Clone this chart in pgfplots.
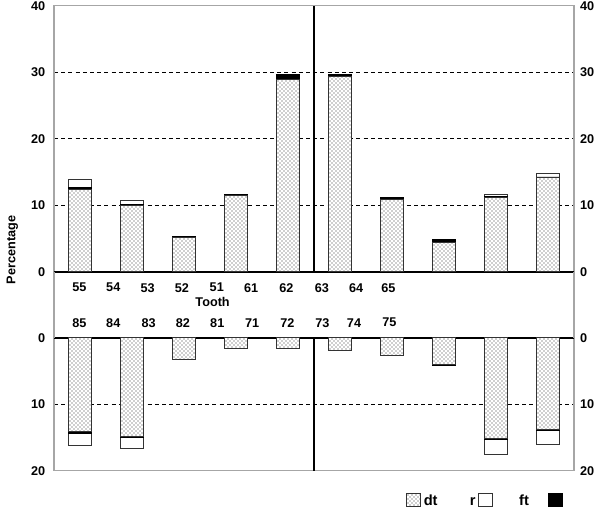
\documentclass[border=0pt]{standalone}
\usepackage{fontspec}
\setmainfont{Liberation Sans}
\usepackage{pgfplots}
\usepackage{pgfplotstable}
\pgfplotsset{compat=1.18}
\usetikzlibrary{patterns}

% x = bar position, dt / ft / r = percentage stacked in this order
\pgfplotstableread{
x   dt    ft    r
0.5 12.4  0.2   1.3
1.5 9.9   0.2   0.6
2.5 5.2   0.15  0
3.5 11.5  0.1   0
4.5 28.9  0.8   0
5.5 29.3  0.35  0
6.5 10.85 0.35  0
7.5 4.45  0.35  0
8.5 11.1  0.15  0.4
9.5 14.1  0.15  0.5
}\upperjaw
\pgfplotstableread{
x   dt    ft    r
0.5 14.1  0.3   1.8
1.5 14.8  0.2   1.7
2.5 3.3   0     0
3.5 1.6   0     0
4.5 1.6   0     0
5.5 1.9   0     0
6.5 2.6   0     0
7.5 4.0   0.2   0
8.5 15.1  0.25  2.2
9.5 13.8  0.15  2.1
}\lowerjaw

\newcommand{\lbl}{\bfseries\fontsize{9.5}{11}\selectfont}

\pgfplotsset{
  panel/.style={
    scale only axis, width=390pt,
    xmin=0, xmax=10,
    ybar stacked, bar width=0.434,
    major tick length=0pt,
    /pgf/number format/assume math mode=true,
    tick label style={font=\lbl},
    yticklabel style={xshift=-3pt},
    axis line style={draw=black!35, line width=0.9pt},
    ymajorgrids,
    grid style={black, line width=0.55pt, dash pattern=on 3pt off 2.4pt},
    extra y ticks={0}, extra y tick labels={},
    extra y tick style={grid=major, major grid style={solid, black, line width=1.4pt}},
    extra x ticks={5}, extra x tick labels={},
    extra x tick style={grid=major, major grid style={solid, black, line width=2.2pt}},
  },
  rightlabels/.style={
    scale only axis, width=390pt,
    xmin=0, xmax=10,
    hide x axis,
    axis y line*=right,
    y axis line style={draw=none},
    major tick length=0pt,
    /pgf/number format/assume math mode=true,
    yticklabel style={font=\lbl, xshift=1pt},
  },
  dtbar/.style={fill=white, draw=black!80, line width=0.6pt,
    postaction={pattern=crosshatch dots, pattern color=black!80}},
  ftbar/.style={fill=black, draw=black, line width=0.6pt},
  rbar/.style={fill=white, draw=black!80, line width=0.6pt},
}

\begin{document}
\begin{tikzpicture}
\useasboundingbox (0,0) rectangle (450pt,383.25pt);

% upper jaw
\begin{axis}[panel, name=up,
  at={(40.5pt,179.5pt)}, anchor=south west, height=199.5pt,
  ymin=0, ymax=40, ytick={0,10,20,30,40},
  xtick={0.49,1.14,1.80,2.46,3.13,3.79,4.47,5.15,5.81,6.43},
  xticklabels={55,54,53,52,51,61,62,63,64,65},
  xticklabel style={anchor=center, yshift=-12pt},
  xlabel={Tooth},
  xlabel style={font=\lbl, at={(axis description cs:0.305,0)}, anchor=center, yshift=-22.5pt},
  ylabel={Percentage},
  ylabel style={font=\lbl, at={(axis description cs:-0.08,0.082)}, anchor=center},
]
\addplot[dtbar] table[x=x, y=dt] {\upperjaw};
\addplot[ftbar] table[x=x, y=ft] {\upperjaw};
\addplot[rbar]  table[x=x, y=r]  {\upperjaw};
\end{axis}
\begin{axis}[rightlabels,
  at={(40.5pt,179.5pt)}, anchor=south west, height=199.5pt,
  ymin=0, ymax=40, ytick={0,10,20,30,40}]
\end{axis}

% lower jaw
\begin{axis}[panel, name=low,
  at={(40.5pt,130pt)}, anchor=north west, height=99.75pt,
  y dir=reverse,
  ymin=0, ymax=20, ytick={0,10,20},
  xticklabel pos=upper,
  xtick={0.49,1.14,1.82,2.48,3.14,3.81,4.49,5.16,5.77,6.45},
  xticklabels={85,84,83,82,81,71,72,73,74,75},
  xticklabel style={anchor=center, yshift=11.25pt},
]
\addplot[dtbar] table[x=x, y=dt] {\lowerjaw};
\addplot[ftbar] table[x=x, y=ft] {\lowerjaw};
\addplot[rbar]  table[x=x, y=r]  {\lowerjaw};
\end{axis}
\begin{axis}[rightlabels,
  at={(40.5pt,130pt)}, anchor=north west, height=99.75pt,
  y dir=reverse, ymin=0, ymax=20, ytick={0,10,20}]
\end{axis}

% frame continues through the gap between the two panels
\draw[black!35, line width=0.9pt] (up.south west) -- (low.north west);
\draw[black!35, line width=0.9pt] (up.south east) -- (low.north east);

% legend
\node[draw=black!80, line width=0.6pt, fill=white, minimum size=10pt, inner sep=0pt,
  postaction={pattern=crosshatch dots, pattern color=black!80}] at (310pt,8.25pt) {};
\node[font=\bfseries\fontsize{11}{12}\selectfont, anchor=base] at (323pt,4.4pt) {dt};
\node[font=\bfseries\fontsize{11}{12}\selectfont, anchor=base] at (354.5pt,4.4pt) {r};
\node[draw=black!80, line width=0.6pt, fill=white, minimum size=10pt, inner sep=0pt] at (364pt,8.25pt) {};
\node[font=\bfseries\fontsize{11}{12}\selectfont, anchor=base] at (393pt,4.4pt) {ft};
\node[draw=black, fill=black, minimum size=10pt, inner sep=0pt] at (416.5pt,8.25pt) {};
\end{tikzpicture}
\end{document}
